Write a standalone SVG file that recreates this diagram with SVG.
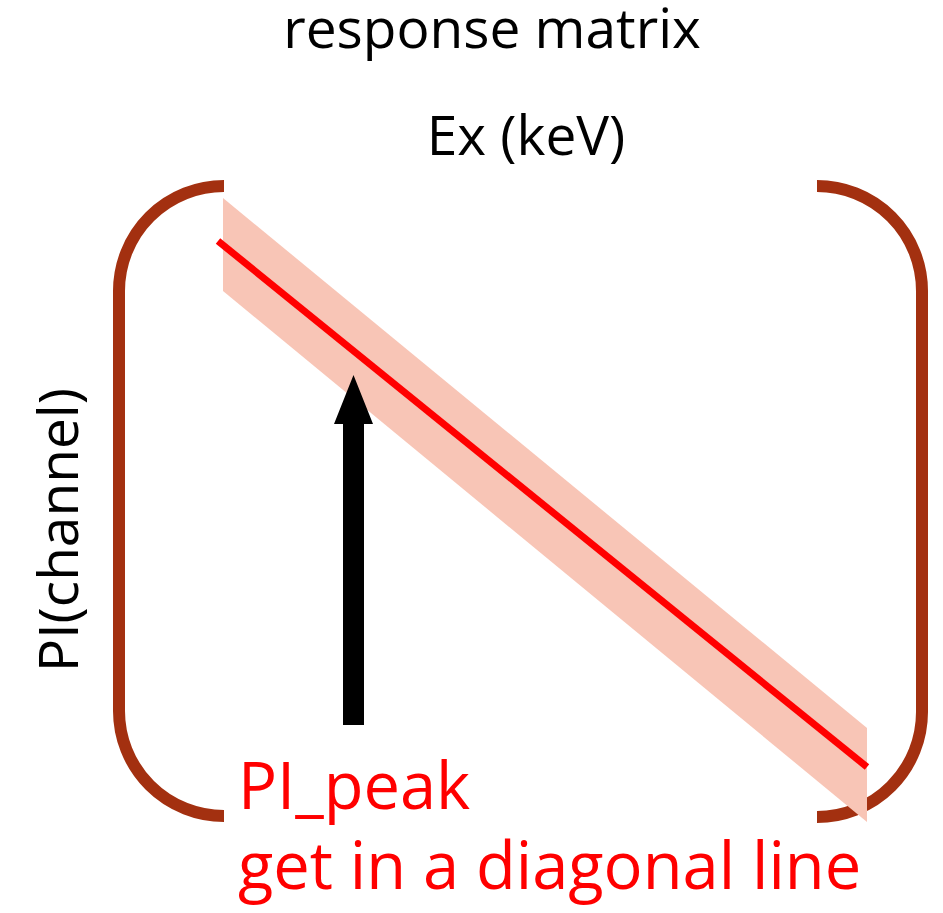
<svg xmlns="http://www.w3.org/2000/svg" width="943" height="913" viewBox="0 0 943 913">
  <style>
    .lbl { font-family: "Open Sans", "Liberation Sans", sans-serif; }
    .blk { fill: #000000; font-size: 55px; }
    .red { fill: #FF0000; font-size: 65px; }
    .brk { fill: none; stroke: #A33010; stroke-width: 12; }
  </style>
  <rect width="943" height="913" fill="#FFFFFF"/>
  <g id="title">
    <text class="lbl blk" x="492" y="48" text-anchor="middle">response matrix</text>
  </g>
  <g id="x-axis-label">
    <text class="lbl blk" x="526" y="155" text-anchor="middle">Ex (keV)</text>
  </g>
  <g id="y-axis-label">
    <text class="lbl blk" transform="translate(78,530) rotate(-90)" text-anchor="middle">PI(channel)</text>
  </g>
  <g id="matrix">
    <path class="brk" d="M224,186 A105,105 0 0 0 119,291 L119,711 A105,105 0 0 0 224,816"/>
    <path class="brk" d="M817,186 A105,105 0 0 1 922,291 L922,712 A105,105 0 0 1 817,817"/>
  </g>
  <g id="band">
    <polygon points="223,198 867,728 867,822 223,291" fill="#F8C5B6"/>
    <line x1="218" y1="241" x2="867" y2="767" stroke="#FF0000" stroke-width="7"/>
  </g>
  <g id="connectors">
    <polygon points="343,725 364,725 364,424 373,424 353.5,375 334,424 343,424" fill="#000000"/>
  </g>
  <g id="note">
    <text class="lbl red" x="238" y="809">PI_peak</text>
    <text class="lbl red" x="238" y="889">get in a diagonal line</text>
  </g>
</svg>
